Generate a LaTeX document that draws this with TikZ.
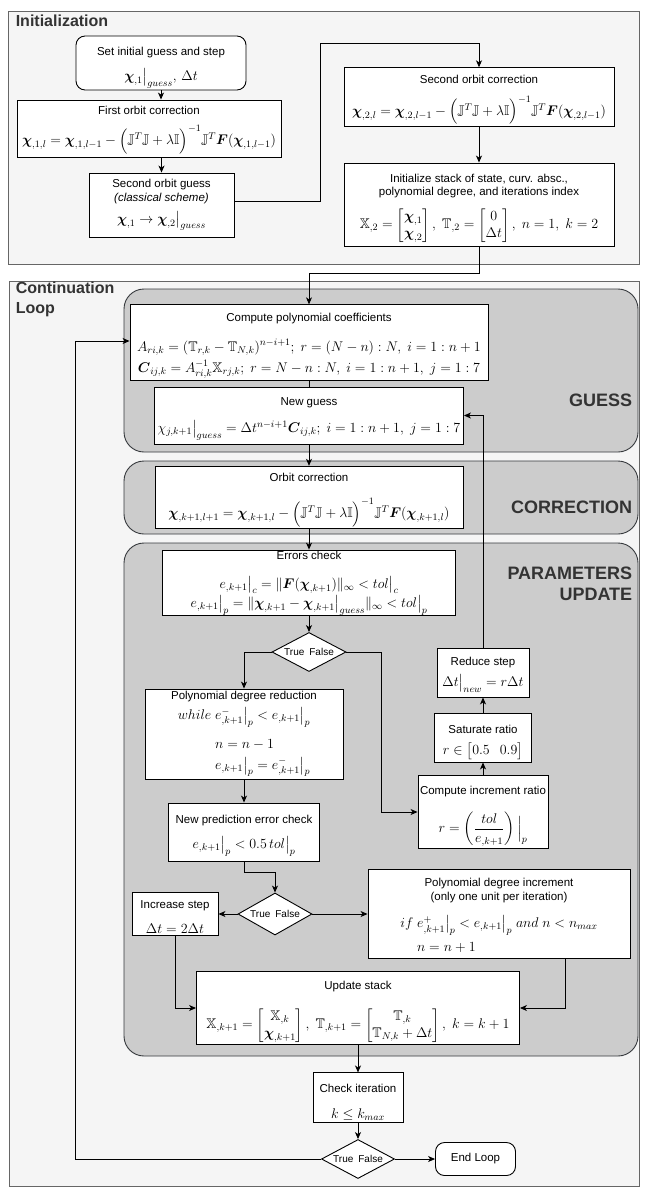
\RequirePackage{fix-cm}
\documentclass[tikz,border=0pt]{standalone}
\usepackage{amsmath}
\usepackage{amssymb}
\usepackage[no-math]{fontspec}
\setmainfont{Liberation Sans}
\usetikzlibrary{shapes.geometric,arrows.meta}
\definecolor{sectfill}{HTML}{F5F5F5}
\definecolor{sectdraw}{HTML}{666666}
\definecolor{regfill}{HTML}{CCCCCC}
\definecolor{regdraw}{HTML}{36393D}
\definecolor{tagcol}{HTML}{333333}
\newcommand{\bchi}{\boldsymbol{\chi}}
\newcommand{\bF}{\boldsymbol{F}}
\newcommand{\lmcorr}{\Big(\mathbb{J}^T\mathbb{J}+\lambda\mathbb{I}\Big)^{-1}\mathbb{J}^T}
\newcommand{\mline}[1]{{\fontsize{14}{16.8}\selectfont$#1$}}
\newcommand{\tshift}[1]{\rule{0pt}{#1}}

\begin{document}
\begin{tikzpicture}[x=1pt, y=-1pt, >={Stealth[length=7pt,width=6pt,inset=2pt]},
	box/.style={draw, fill=white, line width=0.9pt, align=center, inner sep=2pt, font=\fontsize{11.5}{13.8}\selectfont},
	startstop/.style={box, rounded corners=9pt},
	decision/.style={draw, fill=white, diamond, aspect=1.9, line width=0.9pt, inner sep=0pt, font=\fontsize{10}{12}\selectfont},
	section/.style={draw=sectdraw, fill=sectfill, line width=0.9pt},
	region/.style={draw=regdraw, fill=regfill, rounded corners=20pt, line width=0.9pt},
	title/.style={anchor=west, align=left, text=tagcol, font=\fontsize{16}{20}\selectfont\bfseries},
	tag/.style={anchor=east, align=right, text=tagcol, font=\fontsize{18}{21.5}\selectfont\bfseries},
	every path/.style={line width=0.9pt}]
		\useasboundingbox (0,0) rectangle (648,1189);
		%\draw [help lines, step=50] (0,0) grid (648,1189);
		%backgrounds
		\draw [section] (8,11) rectangle (639,264);
		\draw [section] (9,281) rectangle (639,1186);
		\draw [region] (124,289) rectangle (638,452);
		\draw [region] (124,461) rectangle (638,534);
		\draw [region] (124,543) rectangle (638,1056);
		\node [title] (inittitle) at (12,21) {Initialization};
		\node [title] (looptitle) at (12,299) {Continuation\\Loop};
		\node [tag] (guesstag) at (636,400) {GUESS};
		\node [tag] (corrtag) at (636,507) {CORRECTION};
		\node [tag] (updtag) at (636,584) {PARAMETERS\\UPDATE};
		%initialization
		\node [startstop, minimum width=170, minimum height=48] (start) at (161,63)
			{\tshift{17.3pt}Set initial guess and step\\[10pt]\mline{\bchi_{,1}\big|_{guess},\, \Delta t}};
		\node [box, minimum width=264, minimum height=57] (corr1) at (149,128.5)
			{\tshift{11.3pt}First orbit correction\\[10pt]\mline{\bchi_{,1,l} = \bchi_{,1,l-1} - \lmcorr\bF(\bchi_{,1,l-1})}};
		\node [box, minimum width=145, minimum height=64] (guess2) at (161.5,205)
			{Second orbit guess\\\textit{(classical scheme)}\\[6pt]\mline{\bchi_{,1} \rightarrow \bchi_{,2}\big|_{guess}}};
		\node [box, minimum width=270, minimum height=58] (corr2) at (479,97)
			{\tshift{13.3pt}Second orbit correction\\[12pt]\mline{\bchi_{,2,l} = \bchi_{,2,l-1} - \lmcorr\bF(\bchi_{,2,l-1})}};
		\node [box, minimum width=270, minimum height=83] (stack) at (479,204.5)
			{\tshift{15.3pt}Initialize stack of state, curv. absc.,\\polynomial degree, and iterations index\\[9pt]
			\mline{\mathbb{X}_{,2} = \begin{bmatrix}\bchi_{,1}\\ \bchi_{,2}\end{bmatrix},\ \mathbb{T}_{,2} = \begin{bmatrix}0\\ \Delta t\end{bmatrix},\ n=1,\ k=2}};
		%guess
		\node [box, minimum width=358, minimum height=73] (coeff) at (309,342.5)
			{\tshift{14.3pt}Compute polynomial coefficients\\[15pt]
			\mline{A_{ri,k} = (\mathbb{T}_{r,k} - \mathbb{T}_{N,k})^{n-i+1};\ r = (N-n):N,\ i = 1:n+1}\\[4pt]
			\mline{\boldsymbol{C}_{ij,k} = A^{-1}_{ri,k}\mathbb{X}_{rj,k};\ r = N-n:N,\ i=1:n+1,\ j=1:7}};
		\node [box, minimum width=309, minimum height=57] (newguess) at (309,415.5)
			{\tshift{14.3pt}New guess\\[12pt]\mline{\chi_{j,k+1}\big|_{guess} = \Delta t^{n-i+1}\boldsymbol{C}_{ij,k};\ i=1:n+1,\ j=1:7}};
		%correction
		\node [box, minimum width=308, minimum height=59] (corrk) at (309,497.5)
			{\tshift{13.3pt}Orbit correction\\[16pt]\mline{\bchi_{,k+1,l+1} = \bchi_{,k+1,l} - \lmcorr\bF(\bchi_{,k+1,l})}};
		%parameters update
		\node [box, inner ysep=1pt, minimum width=293, minimum height=64] (errchk) at (309,583)
			{Errors check\\[15pt]
			\mline{e_{,k+1}\big|_c = \|\bF(\bchi_{,k+1})\|_\infty < tol\big|_c}\\[1pt]
			\mline{e_{,k+1}\big|_p = \|\bchi_{,k+1} - \bchi_{,k+1}\big|_{guess}\|_\infty < tol\big|_p}};
		\node [decision, minimum width=74, minimum height=39] (dec1) at (309,652) {True\enspace False};
		\node [box, minimum width=198, minimum height=90] (polyred) at (244,734)
			{Polynomial degree reduction\\[5pt]
			\mline{\begin{array}{@{}l@{\ }l@{}} while & e^-_{,k+1}\big|_p < e_{,k+1}\big|_p\\[12pt] & n = n-1\\[4pt] & e_{,k+1}\big|_p = e^-_{,k+1}\big|_p\end{array}}};
		\node [box, minimum width=151, minimum height=58] (newpred) at (244,832)
			{\tshift{15.3pt}New prediction error check\\[10pt]\mline{e_{,k+1}\big|_p < 0.5\,tol\big|_p}};
		\node [box, minimum width=92, minimum height=49] (redstep) at (483,672.5)
			{\tshift{12.3pt}Reduce step\\[6pt]\mline{\Delta t\big|_{new} = r\Delta t}};
		\node [box, minimum width=97, minimum height=49] (sat) at (483,737.5)
			{\tshift{18.3pt}Saturate ratio\\[7pt]\mline{r \in \begin{bmatrix}0.5 & 0.9\end{bmatrix}}};
		\node [box, minimum width=130, minimum height=65] (incr) at (483,812)
			{\tshift{16.3pt}Compute increment ratio\\[15pt]\mline{r = \left(\dfrac{tol}{e_{,k+1}}\right)\Big|_p}};
		\node [decision, minimum width=74, minimum height=42] (dec2) at (275,914) {True\enspace False};
		\node [box, minimum width=86, minimum height=41] (incstep) at (175,914)
			{\tshift{14.3pt}Increase step\\[11pt]\mline{\Delta t = 2\Delta t}};
		\node [box, minimum width=262, minimum height=89] (polyinc) at (499,914)
			{\tshift{15.3pt}Polynomial degree increment\\(only one unit per iteration)\\[12pt]
			\mline{\begin{array}{@{}l@{\ }l@{}} if & e^+_{,k+1}\big|_p < e_{,k+1}\big|_p\ and\ n < n_{max}\\[7pt] & n = n+1\end{array}}};
		\node [box, minimum width=323, minimum height=65] (upd) at (358,1008)
			{\tshift{15.3pt}Update stack\\[16pt]
			\mline{\mathbb{X}_{,k+1} = \begin{bmatrix}\mathbb{X}_{,k}\\ \bchi_{,k+1}\end{bmatrix},\ \mathbb{T}_{,k+1} = \begin{bmatrix}\mathbb{T}_{,k}\\ \mathbb{T}_{N,k}+\Delta t\end{bmatrix},\ k = k+1}};
		%end of loop
		\node [box, minimum width=90, minimum height=49] (check) at (358,1097.5)
			{\tshift{17.3pt}Check iteration\\[12pt]\mline{k \leq k_{max}}};
		\node [decision, minimum width=73, minimum height=39] (dec3) at (358,1159) {True\enspace False};
		\node [startstop, minimum width=80, minimum height=33] (endloop) at (475.5,1159) {End Loop};
		%connectors
		\coordinate (b1) at (320,43);
		\coordinate (b2) at (309,273);
		\coordinate (b3) at (381,812);
		\coordinate (b4) at (244,872);
		\coordinate (b5) at (75,341);
		\draw [->] (start) -- (start |- corr1.north);
		\draw [->] (corr1.south -| guess2) -- (guess2);
		\draw [->] ([yshift=4pt]guess2.east) -| (b1) -| (corr2.north);
		\draw [->] (corr2) -- (stack);
		\draw [->] (stack.south) |- (b2) -- (coeff.north);
		\draw (coeff) -- (newguess);
		\draw [->] (newguess) -- (corrk);
		\draw [->] (corrk) -- (errchk);
		\draw [->] (errchk) -- (dec1);
		\draw [->] (dec1.west) -| (polyred.north);
		\draw [->] (dec1.east) -| (b3) -- (incr.west);
		\draw [->] (incr) -- (sat);
		\draw [->] (sat) -- (redstep);
		\draw [->] (redstep.north) |- (newguess.east);
		\draw [->] (polyred) -- (newpred);
		\draw [->] (newpred.south) -- (b4) -| (dec2.north);
		\draw [->] (dec2.west) -- (incstep.east);
		\draw [->] (dec2.east) -- (polyinc.west);
		\draw [->] (incstep.south) |- (upd.west);
		\draw [->] ([xshift=-65pt]polyinc.south east) |- (upd.east);
		\draw [->] (upd) -- (check);
		\draw [->] (check) -- (dec3);
		\draw [->] (dec3) -- (endloop);
		\draw [->] (dec3.west) -| (b5) -- (b5 -| coeff.west);
\end{tikzpicture}
\end{document}
